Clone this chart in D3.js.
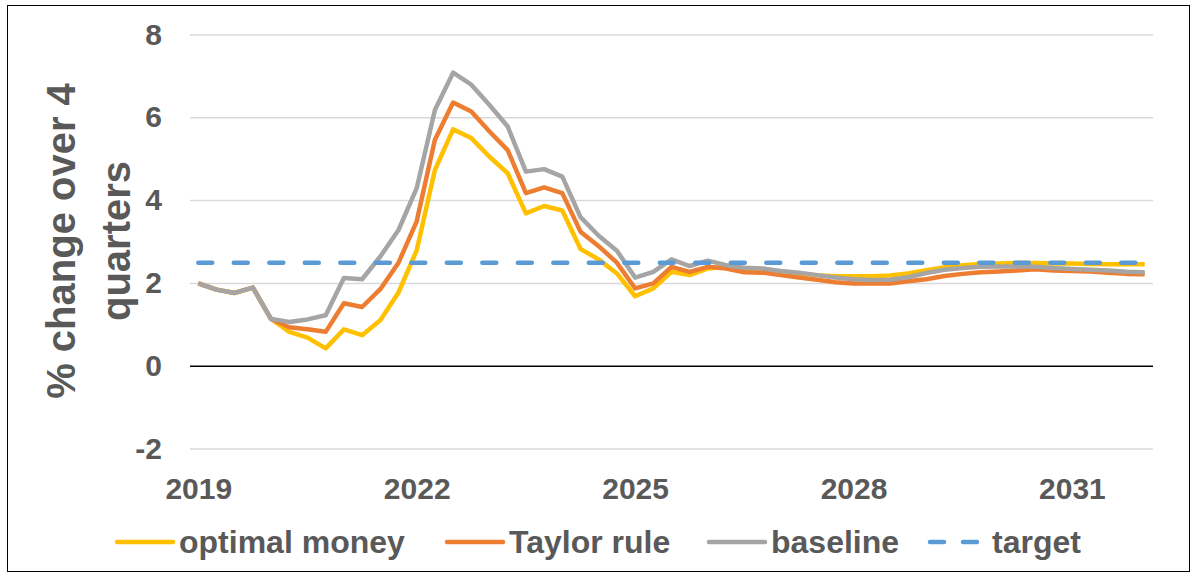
<!DOCTYPE html>
<html>
<head>
<meta charset="utf-8">
<script src="https://cdn.jsdelivr.net/npm/d3@7"></script>
<style>
  html, body { margin: 0; padding: 0; background: #fff; }
  svg text { font-family: "Liberation Sans", Arial, sans-serif; font-weight: bold; fill: #595959; }
</style>
</head>
<body>
<svg id="chart" width="1197" height="577"></svg>
<script>
// Quarterly periods, 2019Q1 .. 2032Q1
const firstYear = 2019;
const periodCount = 53;
const quarters = [];
for (let i = 0; i < periodCount; i++) {
  quarters.push((firstYear + Math.floor(i / 4)) + "Q" + (i % 4 + 1));
}

// Inflation, % change over 4 quarters
const optimalMoney = [
  2.00, 1.85, 1.77, 1.90, 1.14, 0.83, 0.69, 0.43, 0.89, 0.75,
  1.11, 1.78, 2.80, 4.74, 5.72, 5.51, 5.06, 4.66, 3.69, 3.87,
  3.76, 2.83, 2.58, 2.24, 1.69, 1.88, 2.28, 2.20, 2.36, 2.40,
  2.33, 2.31, 2.28, 2.24, 2.20, 2.17, 2.17, 2.17, 2.19, 2.24,
  2.32, 2.39, 2.44, 2.47, 2.48, 2.49, 2.49, 2.48, 2.48, 2.47,
  2.46, 2.46, 2.46
];
const taylorRule = [
  2.00, 1.85, 1.77, 1.90, 1.14, 0.94, 0.89, 0.83, 1.52, 1.43,
  1.86, 2.50, 3.50, 5.47, 6.37, 6.15, 5.67, 5.22, 4.18, 4.32,
  4.18, 3.25, 2.90, 2.50, 1.88, 2.00, 2.40, 2.28, 2.40, 2.36,
  2.27, 2.26, 2.20, 2.14, 2.09, 2.03, 2.00, 2.00, 2.00, 2.05,
  2.10, 2.18, 2.23, 2.27, 2.29, 2.31, 2.34, 2.31, 2.30, 2.29,
  2.26, 2.23, 2.22
];
const baseline = [
  2.00, 1.85, 1.77, 1.90, 1.14, 1.07, 1.13, 1.23, 2.13, 2.10,
  2.65, 3.29, 4.30, 6.19, 7.09, 6.80, 6.31, 5.79, 4.70, 4.76,
  4.58, 3.60, 3.15, 2.79, 2.14, 2.28, 2.58, 2.42, 2.55, 2.44,
  2.38, 2.36, 2.30, 2.26, 2.20, 2.14, 2.10, 2.08, 2.09, 2.15,
  2.25, 2.33, 2.37, 2.40, 2.41, 2.41, 2.40, 2.37, 2.35, 2.33,
  2.31, 2.28, 2.27
];
const targetRate = 2.5;
const target = quarters.map(() => targetRate);

const yTicks = [-2, 0, 2, 4, 6, 8];
const yearLabels = ["2019", "2022", "2025", "2028", "2031"];

const series = [
  { name: "optimal money", values: optimalMoney, color: "#FFC000", dash: null },
  { name: "Taylor rule",   values: taylorRule,   color: "#ED7D31", dash: null },
  { name: "baseline",      values: baseline,     color: "#A5A5A5", dash: null },
  { name: "target",        values: target,       color: "#5B9BD5", dash: "14,21.5" }
];

const svg = d3.select("#chart");

// Outer frame
svg.append("rect")
  .attr("x", 7.5).attr("y", 5.5)
  .attr("width", 1182).attr("height", 566)
  .attr("fill", "none").attr("stroke", "#000").attr("stroke-width", 1);

const plotLeft = 190, plotRight = 1153;
const x = d3.scalePoint().domain(quarters).range([198.3, 1144.7]);
const y = d3.scaleLinear().domain([-2, 8]).range([449, 35]);

// Horizontal gridlines
svg.append("g").selectAll("line")
  .data(yTicks.filter(d => d !== 0))
  .join("line")
  .attr("x1", plotLeft).attr("x2", plotRight)
  .attr("y1", d => y(d)).attr("y2", d => y(d))
  .attr("stroke", "#D9D9D9").attr("stroke-width", 1.5);

// Y axis labels
const yAxis = svg.append("g")
  .attr("transform", `translate(${plotLeft},0)`)
  .call(d3.axisLeft(y).tickValues(yTicks).tickSize(0).tickPadding(28).tickFormat(d => String(d)));
yAxis.select(".domain").remove();
yAxis.selectAll("text")
  .style("font-size", "30px")
  .attr("dy", "0.3em");

// X axis labels (one per three years)
const yearTicks = yearLabels.map(yr => yr + "Q1");
const xAxis = svg.append("g")
  .attr("transform", `translate(0,${y(-2)})`)
  .call(d3.axisBottom(x).tickValues(yearTicks).tickSize(0).tickPadding(29)
    .tickFormat(d => d.slice(0, 4)));
xAxis.select(".domain").remove();
xAxis.selectAll("text").style("font-size", "30px");

// Zero line
svg.append("line")
  .attr("x1", plotLeft).attr("x2", plotRight)
  .attr("y1", y(0)).attr("y2", y(0))
  .attr("stroke", "#000").attr("stroke-width", 1.5);

// Series lines
const line = d3.line()
  .x((d, i) => x(quarters[i]))
  .y(d => y(d));

svg.append("g").selectAll("path")
  .data(series)
  .join("path")
  .attr("d", s => line(s.values))
  .attr("fill", "none")
  .attr("stroke", s => s.color)
  .attr("stroke-width", 4.5)
  .attr("stroke-linejoin", "round")
  .attr("stroke-linecap", s => s.dash ? "round" : "butt")
  .attr("stroke-dasharray", s => s.dash);

// Y axis title
svg.append("text")
  .attr("transform", "translate(80,241) rotate(-90)")
  .attr("text-anchor", "middle")
  .style("font-size", "40px")
  .selectAll("tspan")
  .data(["% change over 4", "quarters"])
  .join("tspan")
  .attr("x", 0)
  .attr("dy", (d, i) => i === 0 ? "-0.12em" : "1.38em")
  .text(d => d);

// Legend
const legendItems = [
  { s: series[0], x: 115 },
  { s: series[1], x: 445 },
  { s: series[2], x: 707 },
  { s: series[3], x: 928 }
];
const legend = svg.append("g");
const legendY = 542;
legendItems.forEach(item => {
  const g = legend.append("g");
  g.append("line")
    .attr("x1", item.x + 2).attr("x2", item.x + 58)
    .attr("y1", legendY).attr("y2", legendY)
    .attr("stroke", item.s.color)
    .attr("stroke-width", 4.5)
    .attr("stroke-linecap", "round")
    .attr("stroke-dasharray", item.s.dash ? "14,19" : null);
  g.append("text")
    .attr("x", item.x + 64)
    .attr("y", 553)
    .style("font-size", "32px")
    .text(item.s.name);
});
</script>
</body>
</html>
